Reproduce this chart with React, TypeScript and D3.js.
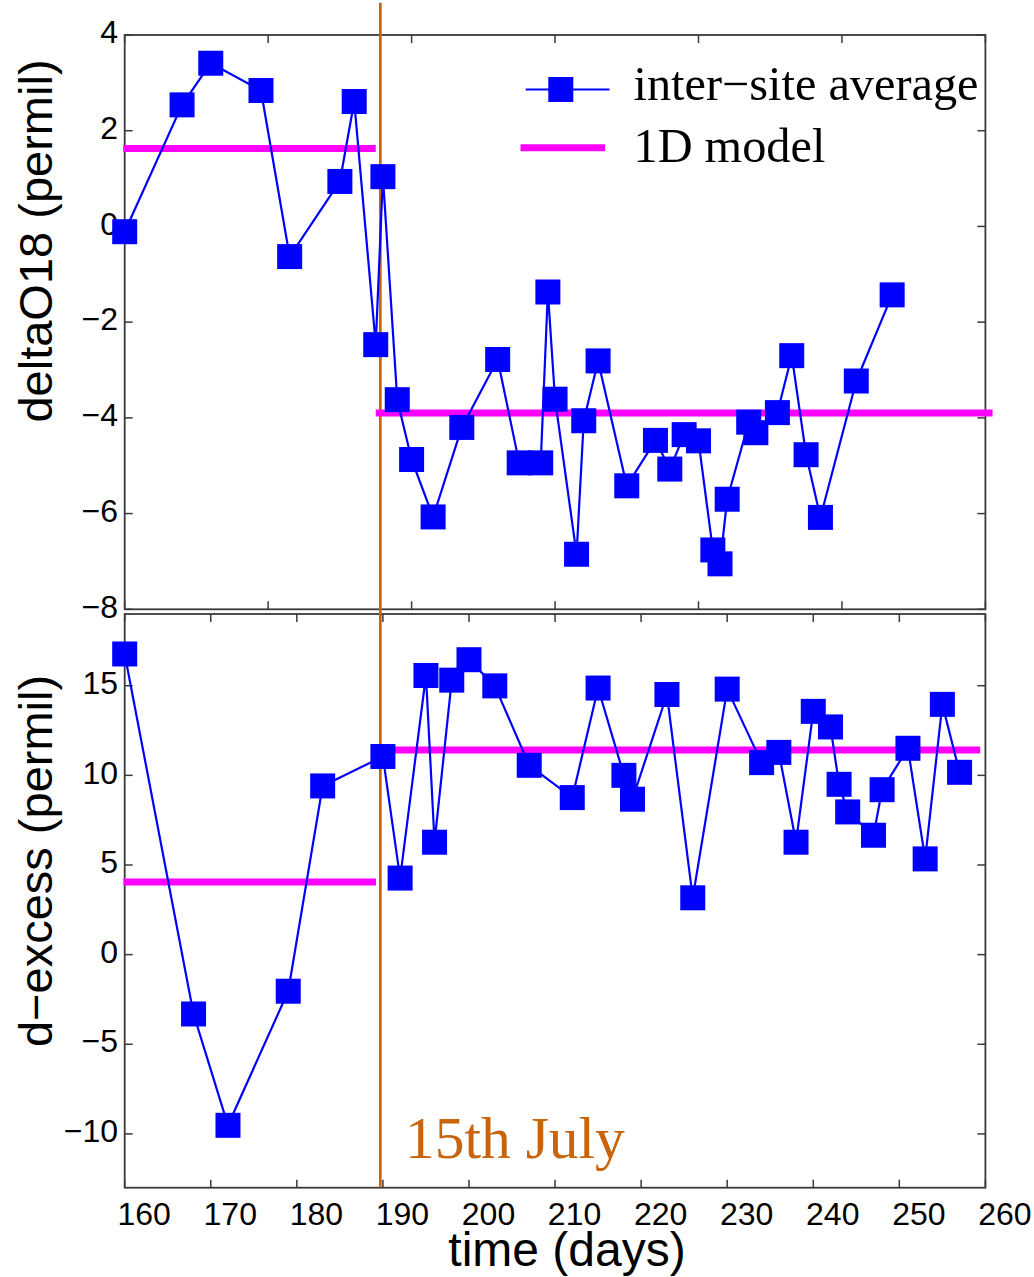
import React from 'react';
import * as d3 from 'd3';

// deltaO18 panel (its own time axis, 150..270)
const topDays = [150, 158, 162, 169, 173, 180, 182, 185, 186, 188, 190, 193, 197, 202, 205, 208, 209, 210, 213, 214, 216, 220, 224, 226, 228, 230, 232, 233, 234, 237, 238, 241, 243, 245, 247, 252, 257];
const topValues = [-0.11, 2.54, 3.41, 2.84, -0.63, 0.94, 2.61, -2.47, 1.04, -3.62, -4.87, -6.07, -4.2, -2.78, -4.94, -4.94, -1.37, -3.61, -6.85, -4.06, -2.81, -5.42, -4.47, -5.07, -4.35, -4.48, -6.76, -7.05, -5.7, -4.09, -4.31, -3.89, -2.7, -4.77, -6.08, -3.23, -1.43];
const topModel = [
  { x0: 149.8, x1: 185, v: 1.63 },
  { x0: 185, x1: 271, v: -3.9 },
];

// d-excess panel
const bottomDays = [160, 168, 172, 179, 183, 190, 192, 195, 196, 198, 200, 203, 207, 212, 215, 218, 219, 223, 226, 230, 234, 236, 238, 240, 242, 243, 244, 247, 248, 251, 253, 255, 257];
const bottomValues = [16.77, -3.31, -9.52, -2.04, 9.41, 11.05, 4.27, 15.57, 6.27, 15.31, 16.45, 14.99, 10.56, 8.76, 14.87, 10.0, 8.67, 14.51, 3.17, 14.81, 10.71, 11.28, 6.27, 13.57, 12.7, 9.5, 7.96, 6.66, 9.2, 11.51, 5.34, 13.96, 10.17];
const bottomModel = [
  { x0: 159.85, x1: 189.2, v: 4.05 },
  { x0: 189.2, x1: 259.4, v: 11.41 },
];

const july15 = 189.7; // vertical marker, on the bottom time axis

const topXTicks = d3.range(150, 271, 20);
const bottomXTicks = d3.range(160, 261, 10);
const topYTicks = d3.range(-8, 5, 2);
const bottomYTicks = d3.range(-10, 16, 5);

const BLUE = '#0000ff';
const MAGENTA = '#ff00ff';
const ORANGE = '#c8640a';
const AXIS = '#3a3a3a';
const SANS = '"Liberation Sans", Arial, sans-serif';
const SERIF = '"Liberation Serif", "Times New Roman", serif';

const W = 1034;
const H = 1277;
const left = 124.7;
const right = 985.4;
const top1 = 35, bot1 = 609.3;
const top2 = 614, bot2 = 1187.7;
const tickLen = 8;
const marker = 25;

const xTop = d3.scaleLinear().domain([150, 270]).range([left, right]);
const xBottom = d3.scaleLinear().domain([160, 260]).range([left, right]);
const yTop = d3.scaleLinear().domain([-8, 4]).range([bot1, top1]);
const yBottom = d3.scaleLinear().domain([-13, 19]).range([bot2, top2]);

type Scale = d3.ScaleLinear<number, number>;

const label = (t: number) => String(t).replace('-', '\u2212');

function Frame({ x, y, xTicks, yTicks, showX }: { x: Scale; y: Scale; xTicks: number[]; yTicks: number[]; showX: boolean }) {
  const [y0, y1] = y.range();
  return (
    <g>
      <rect x={left} y={y1} width={right - left} height={y0 - y1} fill="none" stroke={AXIS} strokeWidth={1.8} />
      {xTicks.map((t) => (
        <g key={'x' + t}>
          <line x1={x(t)} x2={x(t)} y1={y0} y2={y0 - tickLen} stroke={AXIS} strokeWidth={1.5} />
          <line x1={x(t)} x2={x(t)} y1={y1} y2={y1 + tickLen} stroke={AXIS} strokeWidth={1.5} />
          {showX && (
            <text x={x(t) + 19.5} y={1225} textAnchor="middle" fontFamily={SANS} fontSize={32} fill="#000">
              {label(t)}
            </text>
          )}
        </g>
      ))}
      {yTicks.map((t) => (
        <g key={'y' + t}>
          <line x1={left} x2={left + tickLen} y1={y(t)} y2={y(t)} stroke={AXIS} strokeWidth={1.5} />
          <line x1={right} x2={right - tickLen} y1={y(t)} y2={y(t)} stroke={AXIS} strokeWidth={1.5} />
          <text x={118} y={y(t) - 3} dy="0.35em" textAnchor="end" fontFamily={SANS} fontSize={32} fill="#000">
            {label(t)}
          </text>
        </g>
      ))}
    </g>
  );
}

function Series({ x, y, days, values }: { x: Scale; y: Scale; days: number[]; values: number[] }) {
  const pts = days.map((d, i) => [x(d), y(values[i])] as [number, number]);
  const path = d3.line()(pts) || '';
  return (
    <g>
      <path d={path} fill="none" stroke={BLUE} strokeWidth={2.2} strokeLinejoin="round" />
      {pts.map(([px, py], i) => (
        <rect key={i} x={px - marker / 2} y={py - marker / 2} width={marker} height={marker} fill={BLUE} />
      ))}
    </g>
  );
}

function Model({ x, y, segs }: { x: Scale; y: Scale; segs: { x0: number; x1: number; v: number }[] }) {
  return (
    <g>
      {segs.map((s, i) => (
        <line key={i} x1={x(s.x0)} x2={x(s.x1)} y1={y(s.v)} y2={y(s.v)} stroke={MAGENTA} strokeWidth={7} />
      ))}
    </g>
  );
}

export default function App() {
  return (
    <svg width={W} height={H} style={{ position: 'absolute', left: 0, top: 0, background: '#fff' }}>
      <rect width={W} height={H} fill="#fff" />

      <Frame x={xTop} y={yTop} xTicks={topXTicks} yTicks={topYTicks} showX={false} />
      <Frame x={xBottom} y={yBottom} xTicks={bottomXTicks} yTicks={bottomYTicks} showX={true} />

      {/* 15th July marker */}
      <line x1={xBottom(july15)} x2={xBottom(july15)} y1={2.7} y2={1186.7} stroke={ORANGE} strokeWidth={2.7} />
      <text x={405} y={1158} fontFamily={SERIF} fontSize={59.5} fill={ORANGE}>
        15th July
      </text>

      <Model x={xTop} y={yTop} segs={topModel} />
      <Model x={xBottom} y={yBottom} segs={bottomModel} />

      <Series x={xTop} y={yTop} days={topDays} values={topValues} />
      <Series x={xBottom} y={yBottom} days={bottomDays} values={bottomValues} />

      {/* legend */}
      <g>
        <line x1={525.7} x2={609.5} y1={89.5} y2={89.5} stroke={BLUE} strokeWidth={2} />
        <rect x={560.8 - marker / 2} y={89.5 - marker / 2} width={marker} height={marker} fill={BLUE} />
        <text x={633.5} y={100} fontFamily={SERIF} fontSize={48.3} fill="#000">
          inter{'\u2212'}site average
        </text>
        <line x1={520.5} x2={605.1} y1={147.7} y2={147.7} stroke={MAGENTA} strokeWidth={7} />
        <text x={633.5} y={161.7} fontFamily={SERIF} fontSize={48.3} fill="#000">
          1D model
        </text>
      </g>

      {/* axis titles */}
      <text transform="translate(52,241) rotate(-90)" textAnchor="middle" fontFamily={SANS} fontSize={47} fill="#000">
        deltaO18 (permil)
      </text>
      <text transform="translate(52,861) rotate(-90)" textAnchor="middle" fontFamily={SANS} fontSize={47} fill="#000">
        d{'\u2212'}excess (permil)
      </text>
      <text x={567} y={1266} textAnchor="middle" fontFamily={SANS} fontSize={48} fill="#000">
        time (days)
      </text>
    </svg>
  );
}
